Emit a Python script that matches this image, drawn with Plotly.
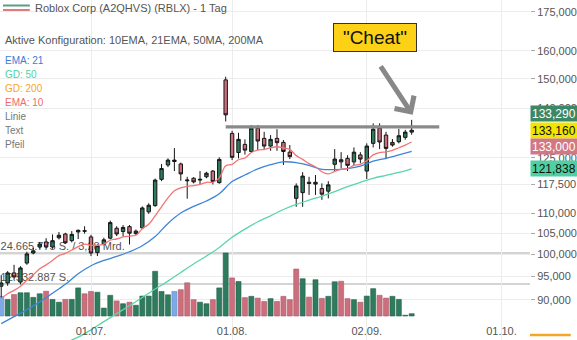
import math
import plotly.graph_objects as go

# Trading-day index (0 = 01.07.) and daily candles
day_idx = list(range(-14, 51))
opens = [92.9, 93.6, 95.8, 93.8, 98.0, 100.3, 101.7, 102.9, 101.7, 103.9, 104.8, 103.2, 105.3, 105.6,
         104.1, 100.4, 102.4, 103.8, 106.2, 105.4, 106.6, 104.9, 106.3, 110.3, 111.9, 118.9, 122.9, 123.9,
         123.2, 118.5, 119.2, 118.7, 119.6, 121.2, 118.0, 149.6, 132.2, 126.5, 128.9, 126.8, 133.8, 130.7,
         128.4, 130.7, 129.5, 126.6, 113.8, 115.3, 118.1, 117.6, 116.4, 115.7, 123.1, 123.8, 124.8, 123.8,
         125.8, 121.2, 129.2, 133.8, 131.7, 129.5, 129.7, 131.0, 132.6]
highs = [95.3, 96.2, 97.6, 97.3, 100.6, 101.5, 102.9, 103.8, 104.7, 105.3, 105.1, 105.5, 105.9, 106.7,
         104.6, 102.3, 103.9, 108.1, 106.7, 107.0, 107.0, 105.9, 111.7, 112.5, 119.1, 123.2, 124.8, 127.8,
         123.6, 119.6, 119.5, 121.2, 121.0, 121.5, 125.1, 150.7, 133.0, 132.4, 130.4, 134.8, 134.8, 132.7,
         131.7, 133.5, 130.2, 128.7, 117.8, 120.9, 119.6, 120.1, 117.8, 118.4, 127.5, 126.6, 125.7, 128.0,
         126.6, 129.2, 135.3, 135.3, 132.7, 130.5, 133.6, 133.3, 136.4]
lows = [90.5, 93.0, 94.3, 93.3, 97.6, 100.0, 101.3, 101.4, 101.3, 103.5, 102.4, 102.8, 103.6, 104.9,
        99.6, 99.6, 102.1, 103.5, 104.3, 104.2, 102.3, 104.6, 106.0, 109.8, 111.6, 118.4, 122.3, 121.2,
        118.5, 113.7, 117.8, 117.6, 119.2, 117.5, 117.7, 135.9, 124.3, 124.8, 125.9, 126.5, 127.2, 127.2,
        127.0, 127.0, 122.9, 124.6, 111.6, 111.6, 114.7, 114.7, 113.4, 113.8, 121.2, 121.9, 121.2, 122.9,
        123.4, 119.0, 128.0, 127.5, 124.6, 128.2, 129.2, 130.3, 131.8]
closes = [93.6, 95.8, 94.9, 96.9, 100.1, 100.8, 102.4, 101.7, 103.2, 104.5, 102.7, 104.7, 105.7, 105.5,
          100.3, 102.0, 103.4, 107.6, 104.8, 106.4, 105.0, 105.5, 111.3, 112.0, 118.7, 121.9, 124.3, 124.3,
          120.4, 118.7, 118.2, 118.9, 120.6, 118.3, 124.5, 138.0, 125.1, 130.4, 127.2, 133.8, 129.9, 128.4,
          130.4, 129.4, 126.8, 125.3, 117.1, 119.8, 117.8, 118.1, 114.9, 117.4, 124.6, 124.4, 122.8, 126.6,
          124.6, 128.4, 133.5, 129.6, 127.7, 128.7, 131.5, 132.6, 133.16]
volume_mio = [7.7, 6.5, 8.4, 9.1, 9.1, 7.3, 8.7, 9.7, 6.5, 5.4, 6.5, 6.5, 11.0, 8.7,
              9.6, 9.3, 3.1, 8.1, 5.9, 4.8, 5.4, 4.2, 7.8, 7.8, 17.5, 9.6, 8.3, 9.6,
              10.3, 13.0, 6.4, 5.4, 4.8, 6.4, 11.0, 24.665775, 14.9, 13.5, 7.2, 7.7, 7.0, 5.7,
              6.8, 5.7, 7.7, 6.4, 18.4, 14.6, 7.4, 14.2, 6.9, 7.7, 13.4, 13.6, 6.8, 6.4,
              5.4, 7.8, 10.7, 8.1, 7.0, 7.7, 6.5, 0.3, 0.9]

# Indicator lines
ema10_idx = list(range(-14, 51))
ema10 = [90.3, 91.3, 92.0, 92.9, 94.2, 95.4, 96.7, 97.6, 98.6, 99.7, 100.2, 101.0, 101.8, 102.4,
         102.1, 102.1, 102.4, 103.3, 103.6, 104.1, 104.3, 104.5, 106.1, 107.2, 109.3, 111.6, 113.9, 115.8,
         116.6, 117.0, 117.2, 117.5, 118.1, 118.1, 119.3, 122.7, 123.1, 124.4, 124.9, 126.5, 127.2, 127.4,
         127.9, 128.2, 127.9, 127.4, 125.6, 124.5, 123.3, 122.4, 121.0, 120.4, 121.1, 121.7, 121.9, 122.8,
         123.1, 124.1, 125.8, 126.5, 126.7, 127.1, 127.9, 128.7, 129.6]
ema21_idx = list(range(-14, 51, 2))
ema21 = [85.2, 86.6, 88.0, 89.6, 91.4, 93.3, 95.6, 97.4, 98.6, 99.5, 100.6, 102.0, 104.2, 107.4,
         110.0, 111.7, 113.1, 115.0, 118.3, 120.1, 121.8, 123.0, 123.8, 123.6, 122.8, 121.7, 121.6, 121.9,
         122.6, 124.0, 124.8, 125.8, 126.8]
gd50_idx = list(range(-6, 51, 2))
gd50 = [80.2, 81.5, 82.6, 84.0, 85.6, 87.2, 88.8, 90.5, 92.3, 94.0, 95.9, 97.8, 99.6, 101.6,
        104.0, 106.0, 107.8, 109.3, 110.9, 112.2, 113.3, 114.4, 115.6, 116.9, 118.1, 119.2, 120.0, 120.8,
        121.838]

# Axis ticks
month_ticks = [0, 22, 43, 64]
month_labels = ["01.07.", "01.08.", "02.09.", "01.10."]
price_ticks = [175, 160, 150, 140, 125, 117.5, 110, 105, 100, 95, 90]
price_labels = ["175,000", "160,000", "150,000", "140,000", "125,000", "117,500",
                "110,000", "105,000", "100,000", "95,000", "90,000"]

# Drawn objects
line_level = 134.2
line_span = [21.0, 54.3]
vol_max = 24.665775
vol_avg = 12.532887
vol_max_text = "24.665.775 S. / 3,28 Mrd."
vol_avg_text = "12.532.887 S."
price_tags = [("133,290", 133.29, 16, "#3b8766", "white"),
              ("133,160", 133.16, 0, "#f2e500", "#111"),
              ("133,000", 133.00, -16, "#d27884", "white"),
              ("121,838", 121.838, 0, "#4fd0a3", "#111")]

FONT = "Arial, Liberation Sans, sans-serif"
GREEN, RED, BLUE = "#2f7b5d", "#cd6f7b", "#7ea8e6"

vol_colors, vol_edges = [], []
for k, c in enumerate(closes):
    prev = closes[k - 1] if k > 0 else c
    if c > prev:
        vol_colors.append(GREEN); vol_edges.append("#22604a")
    elif c < prev:
        vol_colors.append(RED); vol_edges.append("#a9566a")
    else:
        vol_colors.append(BLUE); vol_edges.append("#5f8acb")

fig = go.Figure()

fig.add_trace(go.Bar(x=day_idx, y=volume_mio, marker=dict(color=vol_colors, line=dict(color=vol_edges, width=0.6)),
                     yaxis="y", hoverinfo="skip"))
# volume captions sit under the candles, so they are drawn as a text trace
fig.add_trace(go.Scatter(x=[-14.1, -14.1], y=[vol_max, vol_avg], mode="text",
                         text=[vol_max_text, vol_avg_text], textposition="top right",
                         textfont=dict(size=11, color="#555", family=FONT), cliponaxis=False,
                         yaxis="y", hoverinfo="skip"))

fig.add_trace(go.Scatter(x=gd50_idx, y=gd50, mode="lines", line=dict(color="#5ad6a8", width=1.3, shape="spline"),
                         yaxis="y2", hoverinfo="skip"))
fig.add_trace(go.Scatter(x=ema21_idx, y=ema21, mode="lines", line=dict(color="#3d84d8", width=1.3, shape="spline"),
                         yaxis="y2", hoverinfo="skip"))
fig.add_trace(go.Scatter(x=ema10_idx, y=ema10, mode="lines", line=dict(color="#f47474", width=1.3, shape="spline"),
                         yaxis="y2", hoverinfo="skip"))
fig.add_trace(go.Candlestick(x=day_idx, open=opens, high=highs, low=lows, close=closes,
                             increasing=dict(fillcolor=GREEN, line=dict(color="#151515", width=1)),
                             decreasing=dict(fillcolor=RED, line=dict(color="#151515", width=1)),
                             whiskerwidth=0, yaxis="y2", hoverinfo="skip"))
fig.add_trace(go.Scatter(x=line_span, y=[line_level, line_level], mode="lines",
                         line=dict(color="#8a8a8a", width=3.2), yaxis="y2", hoverinfo="skip"))

W, H, R = 577, 340, 44
PW = W - R


def px(xp):
    return xp / PW


def py(yp):
    return 1 - yp / H


anns = []
anns.append(dict(text="Roblox Corp (A2QHVS) (RBLX) - 1 Tag", x=px(33), y=py(8), xref="paper", yref="paper",
                 xanchor="left", yanchor="middle", showarrow=False, font=dict(size=11, color="#555", family=FONT)))
anns.append(dict(text="Aktive Konfiguration: 10EMA, 21EMA, 50MA, 200MA", x=px(3), y=py(40), xref="paper",
                 yref="paper", xanchor="left", yanchor="middle", showarrow=False,
                 font=dict(size=11, color="#555", family=FONT)))
legend_items = [("EMA: 21", "#3b7dd8"), ("GD: 50", "#4fd1a1"), ("GD: 200", "#f5a623"),
                ("EMA: 10", "#f06a6a"), ("Linie", "#777"), ("Text", "#777"), ("Pfeil", "#777")]
for k, (label, col) in enumerate(legend_items):
    anns.append(dict(text=label, x=px(3), y=py(60.5 + 14 * k), xref="paper", yref="paper", xanchor="left",
                     yanchor="middle", showarrow=False, font=dict(size=10, color=col, family=FONT)))

for label, val, shift, bg, fg in price_tags:
    anns.append(dict(text=label, x=1, y=math.log10(val), xref="paper", yref="y2", xanchor="left",
                     yanchor="middle", yshift=shift, showarrow=False, bgcolor=bg, width=44, height=13,
                     borderpad=1, align="left", font=dict(size=12, color=fg, family=FONT)))

anns.append(dict(text='"Cheat"', x=44.3, y=math.log10(164.8), xref="x", yref="y2", showarrow=False,
                 bgcolor="#fcd116", bordercolor="#333", borderwidth=1, borderpad=1, width=80, height=25,
                 font=dict(size=19, color="#111", family=FONT)))
anns.append(dict(text="", x=50.16, y=math.log10(138.0), xref="x", yref="y2", showarrow=True,
                 ax=-33, ay=-50, arrowhead=4, arrowsize=0.9, arrowwidth=5, arrowcolor="#888", standoff=0))

shapes = [
    dict(type="line", xref="paper", yref="y", x0=0, x1=1, y0=vol_max, y1=vol_max,
         line=dict(color="#d4d4d4", width=2), layer="below"),
    dict(type="line", xref="paper", yref="y", x0=0, x1=1, y0=vol_avg, y1=vol_avg,
         line=dict(color="#d4d4d4", width=2), layer="below"),
    dict(type="line", xref="paper", yref="paper", x0=px(3), x1=px(30), y0=py(5.5), y1=py(5.5),
         line=dict(color="#5e9c84", width=2)),
    dict(type="line", xref="paper", yref="paper", x0=px(3), x1=px(30), y0=py(10), y1=py(10),
         line=dict(color="#e07b7b", width=2)),
    dict(type="line", xref="paper", yref="paper", x0=1, x1=px(574), y0=py(335), y1=py(335),
         line=dict(color="#f5a623", width=2.5)),
]

fig.update_layout(
    width=W, height=H, margin=dict(l=0, r=R, t=0, b=0),
    paper_bgcolor="white", plot_bgcolor="white", showlegend=False,
    bargap=0.22, boxgap=0.24, hovermode=False,
    font=dict(family=FONT, color="#555"),
    xaxis=dict(range=[-14.19, 68.45], tickvals=month_ticks, ticktext=month_labels,
               ticklabelposition="inside", ticks="", showgrid=True, gridcolor="#ececec", gridwidth=1,
               zeroline=False, showline=False, rangeslider=dict(visible=False),
               tickfont=dict(size=11, color="#555", family=FONT)),
    yaxis=dict(range=[-9.40, 123.75], visible=False, showgrid=False, zeroline=False),
    yaxis2=dict(type="log", range=[math.log10(82.05), math.log10(179.9)], overlaying="y", side="right",
                tickvals=price_ticks, ticktext=price_labels, ticks="outside", ticklen=4, tickcolor="#aaa",
                showgrid=True, gridcolor="#ececec", gridwidth=1, zeroline=False, showline=False,
                tickfont=dict(size=11, color="#555", family=FONT)),
    annotations=anns, shapes=shapes,
)

fig.write_html("out.html")
